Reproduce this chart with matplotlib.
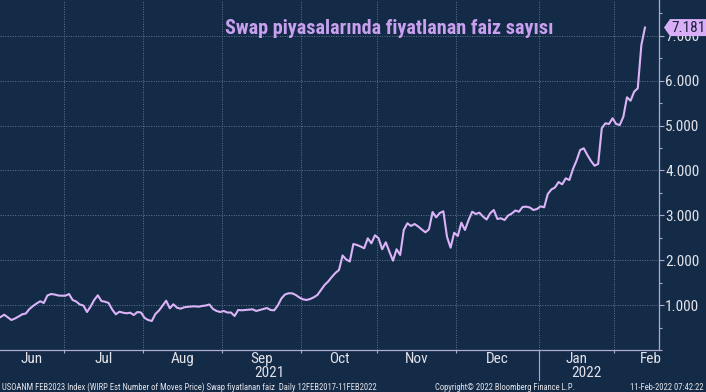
import matplotlib
matplotlib.use("Agg")
import matplotlib.pyplot as plt
from matplotlib import font_manager
from matplotlib.patches import Polygon
from matplotlib.ticker import FixedLocator, MultipleLocator, NullFormatter
import numpy as np
import pandas as pd

# one value per business day, 07-Jun-2021 .. 11-Feb-2022
first_day = "2021-06-07"
moves = [
    0.735, 0.786, 0.728, 0.668, 0.702, 0.746, 0.795, 0.813, 0.913, 0.980,
    1.036, 1.085, 1.047, 1.214, 1.247, 1.236, 1.214, 1.209, 1.209, 1.247,
    1.114, 1.080, 1.013, 0.991, 0.846, 0.969, 1.114, 1.218, 1.091, 1.076,
    1.047, 0.902, 0.795, 0.853, 0.831, 0.817, 0.831, 0.780, 0.846, 0.835,
    0.713, 0.668, 0.646, 0.802, 0.880, 0.991, 1.098, 0.929, 1.018, 0.942,
    0.920, 0.951, 0.962, 0.969, 0.973, 0.964, 0.980, 0.991, 1.013, 0.913,
    0.869, 0.846, 0.869, 0.835, 0.835, 0.757, 0.891, 0.884, 0.891, 0.898,
    0.906, 0.869, 0.891, 0.913, 0.935, 0.891, 0.884, 0.991, 1.147, 1.236,
    1.263, 1.263, 1.225, 1.169, 1.129, 1.114, 1.136, 1.174, 1.225, 1.336,
    1.448, 1.526, 1.626, 1.715, 1.782, 2.105, 2.016, 1.971, 2.361, 2.339,
    2.305, 2.265, 2.488, 2.376, 2.555, 2.488, 2.243, 2.399, 2.189, 1.989,
    2.243, 2.116, 2.673, 2.822, 2.762, 2.806, 2.751, 2.684, 2.621, 2.688,
    3.073, 2.955, 3.051, 3.089, 2.523, 2.278, 2.612, 2.539, 2.835, 2.673,
    2.895, 3.080, 3.029, 3.058, 2.973, 2.906, 3.045, 3.118, 2.918, 2.933,
    2.895, 2.996, 3.040, 3.107, 3.080, 3.185, 3.192, 3.174, 3.118, 3.140,
    3.200, 3.178, 3.474, 3.575, 3.619, 3.742, 3.690, 3.824, 3.786, 4.031,
    4.220, 4.454, 4.492, 4.343, 4.209, 4.105, 4.143, 4.938, 5.049, 5.033,
    5.160, 5.033, 5.011, 5.196, 5.628, 5.552, 5.753, 5.828, 6.793, 7.181,
]
last_label = "7.181"
y_ticks = [1, 2, 3, 4, 5, 6, 7]
title = "Swap piyasalarında fiyatlanan faiz sayısı"
footer_left = ("USOANM FEB2023 Index (WIRP Est Number of Moves Price) "
               "Swap fiyatlanan faiz  Daily 12FEB2017-11FEB2022")
footer_mid = "Copyright\u00a9 2022 Bloomberg Finance L.P."
footer_right = "11-Feb-2022 07:42:22"

bg = "#142b47"
grid_col = "#5f7592"
axis_col = "#aeaacb"
text_col = "#e2e2ea"
line_col = "#dbb4f7"
title_col = "#c99ff0"

names = {f.name for f in font_manager.fontManager.ttflist}
narrow = next((n for n in ["Liberation Sans Narrow", "Arial Narrow", "Roboto Condensed"]
               if n in names), "Liberation Sans")
plt.rcParams["font.family"] = [narrow, "DejaVu Sans"]

dates = pd.bdate_range(first_day, periods=len(moves))
pos = np.arange(len(moves))

# full business-day calendar so month spans are known past the data
cal = pd.bdate_range("2021-06-01", "2022-02-28")
cal_pos = np.arange(len(cal)) - cal.get_loc(pd.Timestamp(first_day))
x_lo, x_hi = -0.17, 182.9

months = pd.Series(cal_pos, index=cal).groupby([cal.year, cal.month])
grid_x, label_x, label_txt = [], [], []
for (yr, mo), grp in months:
    first, last = grp.min(), grp.max()
    if first - 0.5 > x_lo:
        grid_x.append(first - 0.5)
    lo = max(first - 0.5, x_lo)
    label_x.append((lo + last + 0.5) / 2)
    label_txt.append(pd.Timestamp(year=yr, month=mo, day=1).strftime("%b"))

jan_x = cal_pos[(cal.year == 2022)].min() - 0.5
year_x = [(x_lo + jan_x) / 2, (jan_x + 176) / 2]
year_txt = ["2021", "2022"]

W, H = 706, 392
fig = plt.figure(figsize=(W / 100, H / 100), dpi=100, facecolor=bg)
ax = fig.add_axes([0, 42 / H, 659 / W, 350 / H], facecolor=bg)

ax.plot(pos, moves, color=line_col, lw=1.5, zorder=3)
ax.set_xlim(x_lo, x_hi)
ax.set_ylim(0, 350 / 44.9)

for s in ["left", "top"]:
    ax.spines[s].set_visible(False)
for s in ["right", "bottom"]:
    ax.spines[s].set_color(axis_col)
    ax.spines[s].set_linewidth(0.9)

ax.yaxis.tick_right()
ax.yaxis.set_major_locator(FixedLocator(y_ticks))
ax.yaxis.set_minor_locator(MultipleLocator(0.5))
ax.set_yticklabels([f"{v:.3f}" for v in y_ticks])
ax.tick_params(axis="y", which="major", direction="out", length=3.5, width=0.8,
               color=axis_col, labelcolor=text_col, labelsize=11, pad=1)
ax.tick_params(axis="y", which="minor", direction="out", length=2.5, width=0.8,
               color=axis_col)

ax.xaxis.set_major_locator(FixedLocator(grid_x))
ax.xaxis.set_major_formatter(NullFormatter())
ax.xaxis.set_minor_locator(FixedLocator(label_x))
ax.set_xticklabels(label_txt, minor=True)
ax.tick_params(axis="x", which="major", direction="out", length=2.5, width=0.8,
               color=axis_col)
ax.tick_params(axis="x", which="minor", length=0, labelcolor=text_col,
               labelsize=11, pad=1.5)

ax.grid(True, which="major", color=grid_col, lw=0.7, ls=(0, (1, 1.5)))
ax.set_axisbelow(True)

xt = ax.get_xaxis_transform()
for x, t in zip(year_x, year_txt):
    ax.text(x, -0.066, t, transform=xt, ha="center", va="center",
            color=text_col, fontsize=11)
ax.plot([jan_x, jan_x], [0, -0.085], transform=xt, color=axis_col, lw=0.8,
        clip_on=False)

ax.text(0.59, 0.92, title, transform=ax.transAxes, ha="center", va="center",
        color=title_col, fontsize=14.5, fontweight="bold")

# last value tag on the right axis
fig.canvas.draw()
yd = ax.transData.transform((0, moves[-1]))[1]
tag = [(664, yd), (670, yd + 8.5), (706, yd + 8.5), (706, yd - 8.5), (670, yd - 8.5)]
fig.add_artist(Polygon([(px / W, py / H) for px, py in tag], closed=True,
                       transform=fig.transFigure, facecolor="#d9aef7",
                       edgecolor="none", zorder=5))
fig.text(671 / W, yd / H, last_label, ha="left", va="center", color="#1c2240",
         fontsize=11, zorder=6)

fy = 5 / H
fig.text(2 / W, fy, footer_left, ha="left", va="center", color=text_col, fontsize=6.2)
fig.text(435 / W, fy, footer_mid, ha="left", va="center", color=text_col, fontsize=6.2)
fig.text(704 / W, fy, footer_right, ha="right", va="center", color=text_col, fontsize=6.2)

fig.savefig("out.png", dpi=100, facecolor=bg)
